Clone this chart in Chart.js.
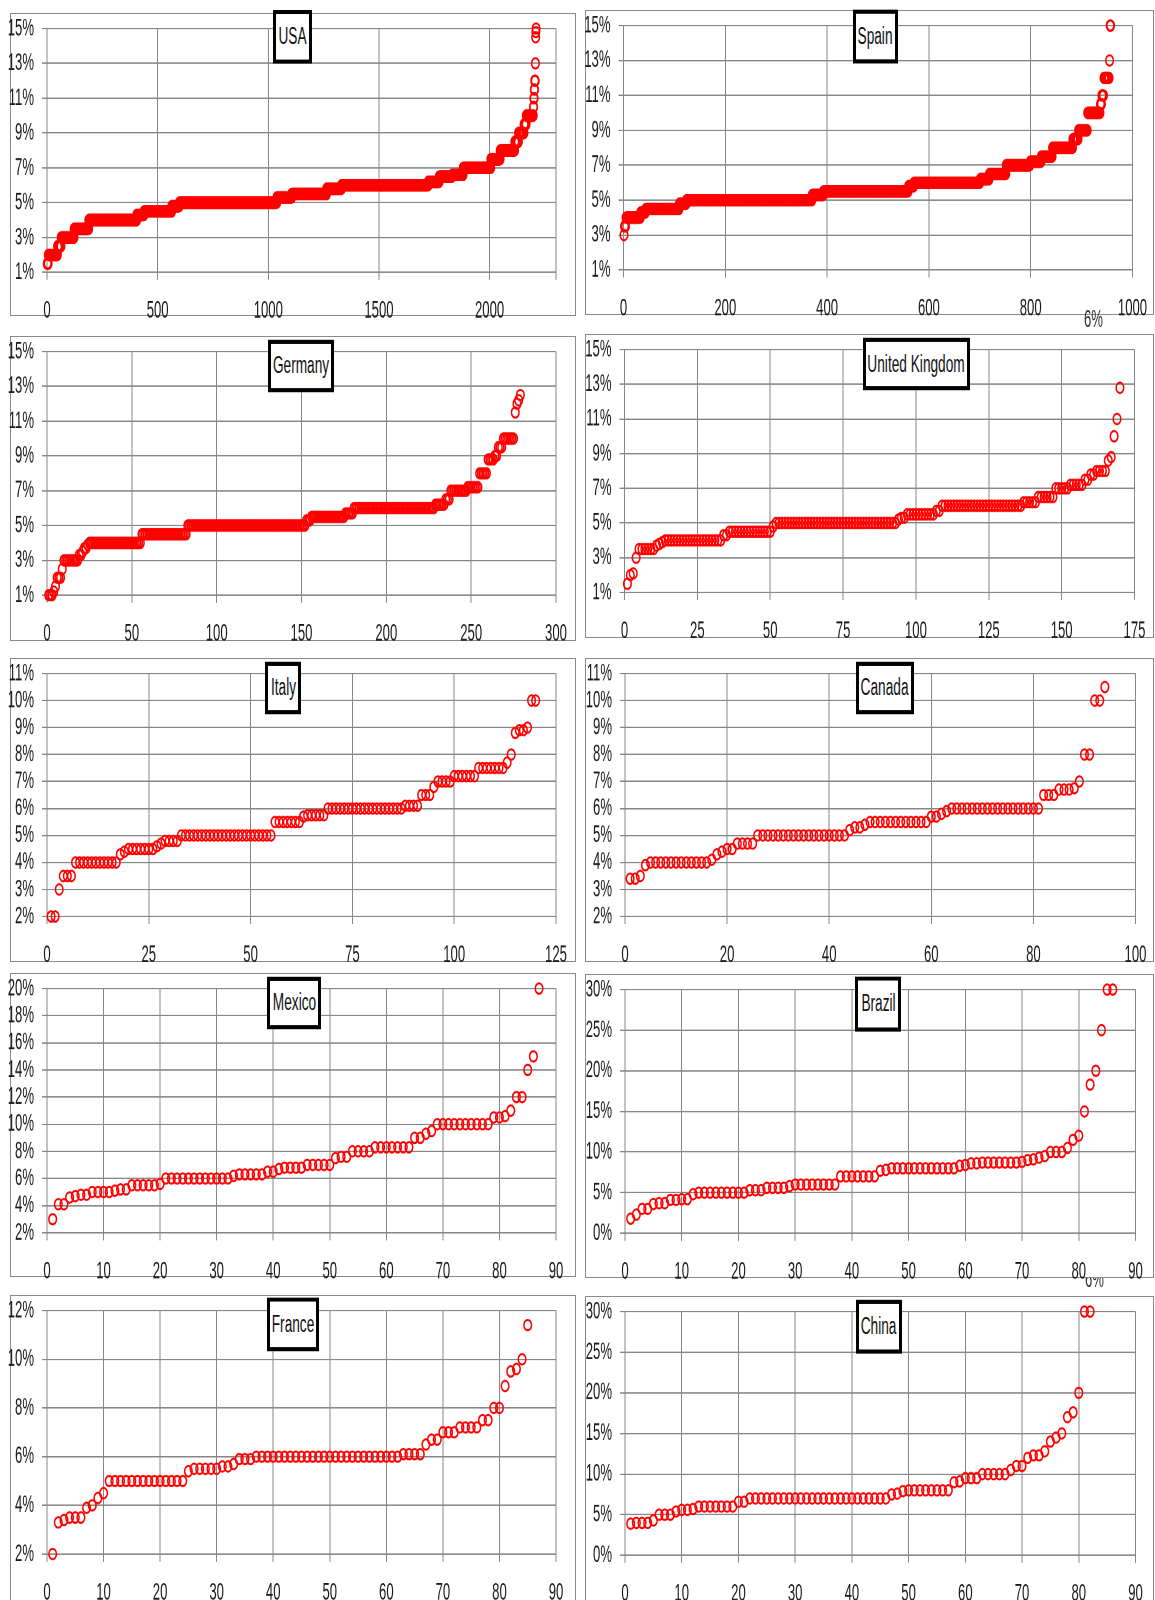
<!DOCTYPE html>
<html><head><meta charset="utf-8">
<script src="https://cdn.jsdelivr.net/npm/chart.js@4.4.1/dist/chart.umd.min.js"></script>
<style>
html,body{margin:0;padding:0;background:#fff;width:1155px;height:1600px;overflow:hidden;position:relative;}
.box{position:absolute;border:1.5px solid #8a8a8a;box-sizing:border-box;}
.wrap{position:absolute;}
.inner{position:absolute;left:0;top:0;transform-origin:0 0;}
.ttl{position:absolute;box-sizing:border-box;border:3px solid #000;background:#fff;font-family:"Liberation Sans",Arial,sans-serif;color:#111;font-size:18px;display:flex;align-items:center;justify-content:center;white-space:nowrap;overflow:visible;}
.ttl span{display:inline-block;transform:scaleX(0.76);transform-origin:50% 50%;}
.stray{position:absolute;font-family:"Liberation Sans",Arial,sans-serif;font-size:17.5px;color:#333;transform-origin:0 0;white-space:nowrap;}
</style></head><body>
<script>
// ---------- DATA (sorted values, run-length: value, number of entries) ----------
const usaValues = [1.5, 2, 2.5, 3, 3.5, 4, 4.3, 4.5, 4.8, 5, 5.3, 5.5, 5.8, 6, 6.2, 6.5, 6.6, 7, 7.5, 8, 8.5, 9, 9.5, 10, 10.5, 11, 11.5, 12, 13, 14.5, 14.8, 15];
const usaCounts = [5, 42, 16, 59, 66, 217, 33, 125, 34, 441, 67, 158, 67, 392, 50, 58, 50, 125, 42, 66, 17, 25, 10, 32, 2, 2, 2, 3, 1, 1, 1, 1];

const spainValues = [3, 3.5, 4, 4.3, 4.5, 4.8, 5, 5.3, 5.5, 5.8, 6, 6.2, 6.5, 7, 7.2, 7.5, 8, 8.5, 9, 10, 10.5, 11, 12, 13, 15];
const spainCounts = [1, 3, 29, 10, 66, 14, 247, 22, 167, 11, 130, 18, 33, 47, 22, 22, 40, 11, 18, 25, 3, 4, 11, 1, 2];

const germanyValues = [1, 1.2, 1.5, 2, 2.5, 3, 3.3, 3.5, 3.7, 3.9, 4, 4.5, 5, 5.3, 5.5, 5.7, 6, 6.2, 6.5, 7, 7.2, 8, 8.8, 9, 9.5, 10, 11.5, 12, 12.2, 12.5];
const germanyCounts = [3, 1, 1, 3, 1, 9, 2, 1, 2, 1, 31, 27, 70, 3, 20, 5, 48, 6, 3, 10, 7, 5, 4, 2, 3, 7, 1, 1, 1, 1];

const ukValues = [1.5, 2, 2.1, 3, 3.5, 3.7, 3.8, 3.9, 4, 4.3, 4.5, 4.8, 5, 5.2, 5.3, 5.5, 5.7, 6, 6.2, 6.5, 7, 7.2, 7.5, 7.8, 8, 8.6, 8.8, 10, 11, 12.8];
const ukCounts = [1, 1, 1, 1, 6, 1, 1, 1, 20, 2, 15, 1, 42, 1, 2, 10, 2, 28, 5, 6, 5, 5, 2, 2, 4, 1, 1, 1, 1, 1];

const italyValues = [2, 3, 3.5, 4, 4.3, 4.4, 4.5, 4.6, 4.7, 4.8, 5, 5.5, 5.7, 5.75, 6, 6.1, 6.5, 6.8, 7, 7.2, 7.5, 7.7, 8, 8.8, 8.9, 9, 10];
const italyCounts = [2, 1, 3, 11, 1, 1, 7, 1, 1, 4, 23, 7, 1, 5, 19, 4, 3, 1, 4, 6, 7, 1, 1, 1, 2, 1, 2];

const canadaValues = [3.4, 3.5, 3.9, 4, 4.1, 4.3, 4.4, 4.5, 4.7, 5, 5.2, 5.3, 5.4, 5.5, 5.7, 5.8, 5.9, 6, 6.5, 6.7, 6.75, 7, 8, 10, 10.5];
const canadaCounts = [2, 1, 1, 12, 1, 1, 1, 2, 4, 18, 1, 2, 1, 12, 2, 1, 1, 18, 3, 3, 1, 1, 2, 2, 1];

const mexicoValues = [3, 4.1, 4.6, 4.7, 4.8, 5, 5.1, 5.2, 5.5, 5.6, 6, 6.2, 6.3, 6.5, 6.7, 6.8, 7, 7.5, 7.6, 8, 8.3, 9, 9.3, 9.5, 10, 10.5, 10.6, 11, 12, 14, 15, 20];
const mexicoCounts = [1, 2, 1, 1, 2, 4, 1, 2, 5, 1, 12, 1, 5, 2, 1, 4, 5, 1, 2, 4, 7, 2, 1, 1, 10, 2, 1, 1, 2, 1, 1, 1];

const brazilValues = [1.8, 2.3, 3, 3.6, 3.7, 4.1, 4.2, 4.8, 5, 5.3, 5.6, 5.8, 6, 7, 7.7, 7.8, 8, 8.3, 8.4, 8.6, 8.7, 8.8, 9, 9.1, 9.3, 9.5, 10, 10.5, 11.5, 12, 15, 18.3, 20, 25, 30];
const brazilCounts = [1, 1, 2, 1, 2, 2, 2, 1, 9, 3, 4, 1, 8, 7, 1, 1, 12, 1, 1, 2, 7, 1, 1, 1, 1, 1, 3, 1, 1, 1, 1, 1, 1, 1, 2];

const franceValues = [2, 3.3, 3.4, 3.5, 3.9, 4, 4.3, 4.5, 5, 5.4, 5.5, 5.6, 5.7, 5.9, 6, 6.1, 6.5, 6.7, 7, 7.2, 7.5, 8, 8.9, 9.5, 9.6, 10, 11.4];
const franceCounts = [1, 1, 1, 3, 1, 1, 1, 1, 14, 1, 5, 2, 1, 3, 26, 4, 1, 2, 3, 4, 2, 2, 1, 1, 1, 1, 1];

const chinaValues = [3.9, 4, 4.3, 5, 5.4, 5.6, 5.7, 6, 6.6, 7, 7.5, 7.6, 7.9, 8, 9, 9.1, 9.5, 10, 10.5, 11, 12, 12.3, 12.8, 14, 14.5, 15, 17, 17.6, 20, 30];
const chinaCounts = [1, 3, 1, 3, 1, 2, 1, 7, 2, 25, 1, 1, 1, 8, 1, 1, 3, 5, 1, 2, 1, 2, 1, 1, 1, 1, 1, 1, 1, 2];

// axis ranges: [min, max, step]
const usaX = [0, 2300, 500],   usaY = [1, 15, 2];
const spainX = [0, 1000, 200], spainY = [1, 15, 2];
const germanyX = [0, 300, 50], germanyY = [1, 15, 2];
const ukX = [0, 175, 25],      ukY = [1, 15, 2];
const italyX = [0, 125, 25],   italyY = [2, 11, 1];
const canadaX = [0, 100, 20],  canadaY = [2, 11, 1];
const mexicoX = [0, 90, 10],   mexicoY = [2, 20, 2];
const brazilX = [0, 90, 10],   brazilY = [0, 30, 5];
const franceX = [0, 90, 10],   franceY = [2, 12, 2];
const chinaX = [0, 90, 10],    chinaY = [0, 30, 5];

const titles = ["USA", "Spain", "Germany", "United Kingdom", "Italy", "Canada", "Mexico", "Brazil", "France", "China"];

// ---------- LAYOUT (page pixels) ----------
const S = 1.38;   // vertical stretch of the original picture
const TX = 0.75;  // horizontal squeeze of the narrow lettering
const FONT = '"Liberation Sans", Arial, sans-serif';
const FSIZE = 17.5;
const layouts = [
  {box:[10,12.5,576,316],      plot:[47,16.7,556,272.4],      tb:[273,10,312,63]},
  {box:[585,10,1154,315],      plot:[623.5,15.7,1132.5,270.7],tb:[853,9,898,63]},
  {box:[10,335.5,576,640.5],   plot:[47,340.7,556,595.3],     tb:[268,339,334,392]},
  {box:[585,334.3,1154,638.5], plot:[624.5,339.3,1134.5,594], tb:[863,338,970,391]},
  {box:[10,657.5,576,961.5],   plot:[47,663.3,556,917],       tb:[265,661,301,714]},
  {box:[585,657.5,1154,961.5], plot:[625,663.3,1135.5,917],   tb:[856,661,914,714]},
  {box:[10,972.5,576,1276.5],  plot:[47,977.3,556,1233.3],    tb:[267,976,321,1029]},
  {box:[585,974,1154,1278],    plot:[625,979.3,1135.5,1234.3],tb:[855,977,901,1031]},
  {box:[10,1294.5,576,1612],   plot:[47,1299.3,556,1554.3],   tb:[267,1297,319,1351]},
  {box:[585,1295.5,1154,1612], plot:[625,1301.7,1135.5,1556], tb:[856,1299,902,1353]}
];

const series = [
  [usaValues, usaCounts, usaX, usaY],
  [spainValues, spainCounts, spainX, spainY],
  [germanyValues, germanyCounts, germanyX, germanyY],
  [ukValues, ukCounts, ukX, ukY],
  [italyValues, italyCounts, italyX, italyY],
  [canadaValues, canadaCounts, canadaX, canadaY],
  [mexicoValues, mexicoCounts, mexicoX, mexicoY],
  [brazilValues, brazilCounts, brazilX, brazilY],
  [franceValues, franceCounts, franceX, franceY],
  [chinaValues, chinaCounts, chinaX, chinaY]
];

function expand(values, counts) {
  const pts = []; let i = 1;
  values.forEach((v, k) => { for (let c = 0; c < counts[k]; c++) pts.push({x: i++, y: v}); });
  return pts;
}
function tickList(min, max, step) {
  const t = [];
  for (let v = min; v <= max + 1e-9; v += step) t.push({value: +v.toFixed(6)});
  if (Math.abs(t[t.length - 1].value - max) > 1e-9) t.push({value: max});
  return t;
}

const GRID = '#878787';
const M = 10;

series.forEach((s, idx) => {
  const [vals, cnts, xr, yr] = s;
  const L = layouts[idx];
  const [bl, bt, br, bb] = L.box;
  const [pl, pt, pr, pb] = L.plot;

  const frame = document.createElement('div');
  frame.className = 'box';
  Object.assign(frame.style, {left: bl + 'px', top: bt + 'px', width: (br - bl) + 'px', height: (bb - bt) + 'px'});
  document.body.appendChild(frame);

  const cl = bl - M, ct = bt - M, cw = (br - bl) + 2 * M, ch = (bb - bt) + 2 * M;
  const wrap = document.createElement('div');
  wrap.className = 'wrap';
  Object.assign(wrap.style, {left: cl + 'px', top: ct + 'px', width: cw + 'px', height: ch + 'px'});
  const inner = document.createElement('div');
  inner.className = 'inner';
  inner.style.transform = 'scaleY(' + S + ')';
  const ih = ch / S;
  inner.style.width = cw + 'px';
  inner.style.height = ih + 'px';
  const canvas = document.createElement('canvas');
  canvas.width = cw; canvas.height = ih;
  inner.appendChild(canvas);

  // narrow lettering: squeeze every text draw horizontally around its anchor
  const ctx = canvas.getContext('2d');
  const origFill = ctx.fillText.bind(ctx);
  ctx.fillText = function (t, x, y) {
    this.save(); this.translate(x, y); this.scale(TX, 1); origFill(t, 0, 0); this.restore();
  };

  const [tl, tt, tr, tbm] = L.tb;
  const ttl = document.createElement('div');
  ttl.className = 'ttl';
  const sp = document.createElement('span');
  sp.textContent = titles[idx];
  ttl.appendChild(sp);
  Object.assign(ttl.style, {left: (tl - cl) + 'px', top: ((tt - ct) / S) + 'px', width: (tr - tl) + 'px', height: ((tbm - tt) / S) + 'px'});
  inner.appendChild(ttl);
  wrap.appendChild(inner);
  document.body.appendChild(wrap);

  const yw = pl - cl;
  const xh = (ct + ch - pb) / S;
  const padTop = (pt - ct) / S;
  const padRight = cl + cw - pr;

  new Chart(ctx, {
    type: 'scatter',
    data: {datasets: [{
      data: expand(vals, cnts),
      pointStyle: 'circle', pointRadius: 3.8, pointBorderWidth: 1.5,
      pointBorderColor: '#ff0000', borderColor: '#ff0000',
      pointBackgroundColor: 'rgba(0,0,0,0)', backgroundColor: 'rgba(0,0,0,0)',
      showLine: false, clip: false
    }]},
    options: {
      responsive: false, animation: false, devicePixelRatio: 2, events: [],
      layout: {padding: {top: padTop, right: padRight, bottom: 0, left: 0}, autoPadding: false},
      plugins: {legend: {display: false}, tooltip: {enabled: false}, title: {display: false}},
      scales: {
        x: {
          type: 'linear', min: xr[0], max: xr[1],
          afterBuildTicks: (sc) => { sc.ticks = tickList(xr[0], xr[1], xr[2]); },
          afterFit: (sc) => { sc.height = xh; },
          grid: {color: GRID, lineWidth: 1, tickLength: 5.5, drawTicks: true},
          border: {display: true, color: GRID, width: 1},
          ticks: {padding: 12, color: '#1a1a1a', font: {family: FONT, size: FSIZE}, maxRotation: 0, autoSkip: false,
                  callback: (v) => (Math.abs(v % xr[2]) < 1e-9 ? String(v) : '')}
        },
        y: {
          type: 'linear', min: yr[0], max: yr[1],
          afterBuildTicks: (sc) => { sc.ticks = tickList(yr[0], yr[1], yr[2]); },
          afterFit: (sc) => { sc.width = yw; },
          grid: {color: GRID, lineWidth: 1, tickLength: 5, drawTicks: true},
          border: {display: true, color: GRID, width: 1},
          ticks: {padding: 8, color: '#1a1a1a', font: {family: FONT, size: FSIZE}, autoSkip: false,
                  callback: (v) => v + '%'}
        }
      }
    }
  });
});

// stray label fragments visible in the original screenshot
function stray(text, x, y, clipTop) {
  const top = clipTop !== undefined ? clipTop : y - 14;
  const holder = document.createElement('div');
  holder.style.position = 'absolute';
  holder.style.overflow = 'hidden';
  holder.style.left = (x - 15) + 'px';
  holder.style.top = top + 'px';
  holder.style.width = '30px';
  holder.style.height = (y + 13 - top) + 'px';
  const d = document.createElement('div');
  d.className = 'stray';
  d.textContent = text;
  d.style.left = '5px';
  d.style.top = ((y - 15) - top) + 'px';
  d.style.transform = 'scale(' + TX + ',' + S + ')';
  holder.appendChild(d);
  document.body.appendChild(holder);
}
stray('6%', 1094, 320);
stray('6%', 1095, 1280, 1278);
</script>
</body></html>
